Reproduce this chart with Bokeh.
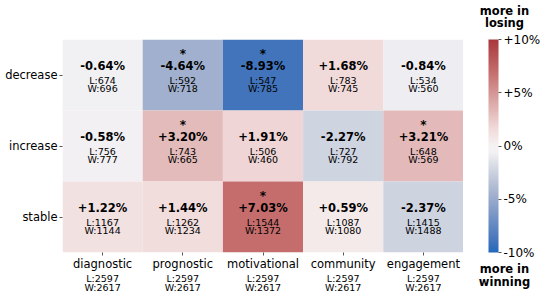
import numpy as np
from bokeh.plotting import figure
from bokeh.models import (ColumnDataSource, FactorRange, LinearColorMapper, ColorBar,
                          FixedTicker, Range1d)
from bokeh.layouts import row, column
from bokeh.transform import transform
from bokeh.core.properties import value
from bokeh.embed import file_html
from bokeh.resources import INLINE

# ---- data ----
cols = ["diagnostic", "prognostic", "motivational", "community", "engagement"]
rows = ["decrease", "increase", "stable"]
diff_decrease = [-0.64, -4.64, -8.93, 1.68, -0.84]
diff_increase = [-0.58, 3.20, 1.91, -2.27, 3.21]
diff_stable = [1.22, 1.44, 7.03, 0.59, -2.37]
L_decrease = [674, 592, 547, 783, 534]
L_increase = [756, 743, 506, 727, 648]
L_stable = [1167, 1262, 1544, 1087, 1415]
W_decrease = [696, 718, 785, 745, 560]
W_increase = [777, 665, 460, 792, 569]
W_stable = [1144, 1234, 1372, 1080, 1488]
sig_decrease = [False, True, True, False, False]
sig_increase = [False, True, False, False, True]
sig_stable = [False, False, True, False, False]
total_L = [2597, 2597, 2597, 2597, 2597]
total_W = [2617, 2617, 2617, 2617, 2617]
cbar_ticks = [-10, -5, 0, 5, 10]
cbar_labels = ["-10%", "-5%", "0%", "+5%", "+10%"]
cbar_title_top = ["more in", "losing"]
cbar_title_bottom = ["more in", "winning"]

FONT = "DejaVu Sans"

# ---- colormap (vlag-like) ----
anchors = [0.0, 0.0535, 0.268, 0.3865, 0.468, 0.5, 0.584, 0.66, 0.8515, 1.0]
rgb = np.array([(35, 105, 189), (68, 117, 188), (161, 176, 206), (208, 213, 225),
                (242, 240, 243), (246, 243, 243), (241, 218, 218), (227, 187, 186),
                (196, 109, 108), (169, 55, 59)], dtype=float)
t = np.linspace(0, 1, 256)
palette = ["#%02x%02x%02x" % tuple(int(round(np.interp(tt, anchors, rgb[:, k]))) for k in range(3)) for tt in t]
mapper = LinearColorMapper(palette=palette, low=-10, high=10)

# ---- table ----
xs, ys, ds, Ls, Ws, ss = [], [], [], [], [], []
for r, d, l, w, s in [("decrease", diff_decrease, L_decrease, W_decrease, sig_decrease),
                      ("increase", diff_increase, L_increase, W_increase, sig_increase),
                      ("stable", diff_stable, L_stable, W_stable, sig_stable)]:
    for i, c in enumerate(cols):
        xs.append(c); ys.append(r); ds.append(d[i]); Ls.append(l[i]); Ws.append(w[i]); ss.append(s[i])
src = ColumnDataSource(dict(
    x=xs, y=ys, d=ds,
    pct=["%+.2f%%" % v for v in ds],
    ltxt=["L:%d" % v for v in Ls],
    wtxt=["W:%d" % v for v in Ws],
    star=["*" if v else "" for v in ss],
))

# ---- main heatmap ----
p = figure(width=463, height=273, x_range=FactorRange(factors=cols),
           y_range=FactorRange(factors=rows[::-1]), output_backend="svg",
           toolbar_location=None, min_border_left=62, min_border_right=0,
           min_border_top=39, min_border_bottom=20)
p.outline_line_color = None
p.grid.grid_line_color = None
p.rect(x="x", y="y", width=1, height=1, source=src,
       fill_color=transform("d", mapper), line_color=None)

common = dict(source=src, text_align="center", text_baseline="middle",
              text_font=value(FONT), text_color="black")
p.text(x="x", y="y", text="star", y_offset=-21, text_font_size="12px", text_font_style="bold", **common)
p.text(x="x", y="y", text="pct", y_offset=-9, text_font_size="11.5px", text_font_style="bold", **common)
p.text(x="x", y="y", text="ltxt", y_offset=5, text_font_size="9.5px", **common)
p.text(x="x", y="y", text="wtxt", y_offset=13.5, text_font_size="9.5px", **common)

for ax in (p.xaxis[0], p.yaxis[0]):
    ax.axis_line_color = None
    ax.major_tick_line_color = "#555555"
    ax.major_tick_out = 3
    ax.major_tick_in = 0
    ax.minor_tick_line_color = None
    ax.major_label_text_font = FONT
    ax.major_label_text_font_size = "11.5px"
    ax.major_label_text_color = "black"
p.yaxis[0].major_label_standoff = 2
p.xaxis[0].major_label_standoff = 1

# ---- totals under the x tick labels ----
tsrc = ColumnDataSource(dict(x=cols, lt=["L:%d" % v for v in total_L], wt=["W:%d" % v for v in total_W]))
pt = figure(width=463, height=25, x_range=p.x_range, y_range=Range1d(25, 0),
            output_backend="svg", toolbar_location=None, x_axis_location=None,
            y_axis_location=None, min_border_left=62, min_border_right=0,
            min_border_top=0, min_border_bottom=0)
pt.outline_line_color = None
pt.grid.grid_line_color = None
tcommon = dict(source=tsrc, text_align="center", text_baseline="middle",
               text_font=value(FONT), text_color="black", text_font_size="9.5px")
pt.text(x="x", y=5, text="lt", **tcommon)
pt.text(x="x", y=14, text="wt", **tcommon)

# ---- colour bar panel ----
pc = figure(width=84, height=298, x_range=Range1d(0, 84), y_range=Range1d(298, 0),
            output_backend="svg", toolbar_location=None, x_axis_location=None,
            y_axis_location=None, min_border=0)
pc.outline_line_color = None
pc.grid.grid_line_color = None
cb = ColorBar(color_mapper=mapper, width=10, height=213, margin=0, padding=0,
              location=(25, 46), ticker=FixedTicker(ticks=cbar_ticks),
              major_label_overrides={k: v for k, v in zip(cbar_ticks, cbar_labels)},
              major_tick_out=3, major_tick_in=0, major_tick_line_color="#555555",
              major_label_text_font=FONT, major_label_text_font_size="12px",
              major_label_text_color="black",
              label_standoff=2, bar_line_color=None, background_fill_alpha=0,
              border_line_color=None)
pc.add_layout(cb, "center")
ttl = dict(text_align="center", text_baseline="middle", text_font=value(FONT),
           text_font_size="11.5px", text_font_style="bold", text_color="black")
pc.text(x=[41, 41], y=[10, 22.7], text=cbar_title_top, **ttl)
pc.text(x=[41, 41], y=[268, 281.7], text=cbar_title_bottom, **ttl)

layout = row(column(p, pt), pc)
open("out.html", "w").write(file_html(layout, INLINE))
